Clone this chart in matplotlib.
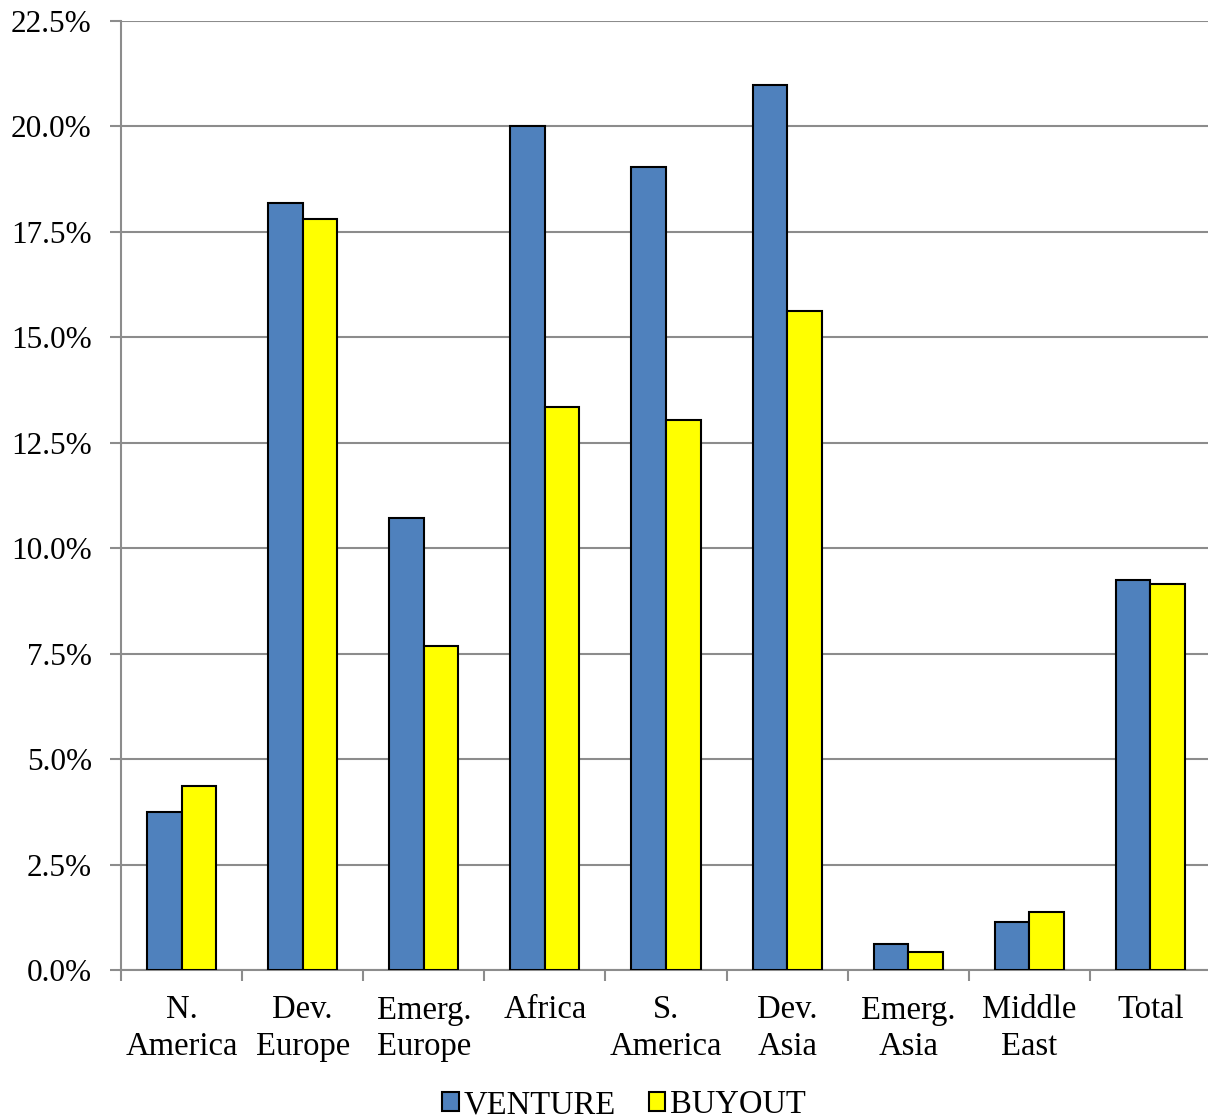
import matplotlib
matplotlib.use("Agg")
import matplotlib.pyplot as plt
from matplotlib.ticker import FuncFormatter, FixedLocator, NullFormatter
from matplotlib.patches import Patch
import numpy as np

plt.rcParams['font.family'] = ['Liberation Serif', 'DejaVu Serif']

categories = ["N.\nAmerica", "Dev.\nEurope", "Emerg.\nEurope", "Africa", "S.\nAmerica",
              "Dev.\nAsia", "Emerg.\nAsia", "Middle\nEast", "Total"]
venture = [3.75, 18.18, 10.72, 20.0, 19.04, 20.98, 0.62, 1.14, 9.24]
buyout = [4.36, 17.80, 7.68, 13.34, 13.04, 15.62, 0.43, 1.38, 9.15]
series_names = ["VENTURE", "BUYOUT"]
colors = ["#4F81BD", "#FFFF00"]

W, H = 1208, 1118
fig = plt.figure(figsize=(W / 100, H / 100), dpi=100)
ax = fig.add_axes([121 / W, 1 - 970 / H, (1211 - 121) / W, (970 - 21) / H])

n = len(categories)
x = np.arange(n)
bw = 1 / 3.5
ax.bar(x - bw / 2, venture, bw, color=colors[0], edgecolor="black", linewidth=1.5, zorder=3)
ax.bar(x + bw / 2, buyout, bw, color=colors[1], edgecolor="black", linewidth=1.5, zorder=3)

ax.set_xlim(-0.5, n - 0.5)
ax.set_ylim(0, 22.5)
ax.set_yticks(np.arange(0, 22.51, 2.5))
ax.yaxis.set_major_formatter(FuncFormatter(lambda v, p: f"{v:.1f}%"))
ax.grid(axis="y", color="#8c8c8c", linewidth=1.5, zorder=0)

ax.xaxis.set_major_locator(FixedLocator(np.arange(-0.5, n, 1.0)))
ax.xaxis.set_major_formatter(NullFormatter())
ax.xaxis.set_minor_locator(FixedLocator(x))
ax.set_xticklabels(categories, minor=True)
ax.tick_params(axis="x", which="minor", length=0, pad=18, labelsize=23.5)
ax.tick_params(axis="x", which="major", length=8, width=1.5, color="#8c8c8c")
ax.tick_params(axis="y", length=8, width=1.5, color="#8c8c8c", labelsize=22.5, pad=13)
for lab in ax.get_xticklabels(minor=True):
    lab.set_linespacing(1.27)

for s in ["top", "right"]:
    ax.spines[s].set_visible(False)
for s in ["left", "bottom"]:
    ax.spines[s].set_color("#8c8c8c")
    ax.spines[s].set_linewidth(1.5)

handles = [Patch(facecolor=c, edgecolor="black", linewidth=1.5) for c in colors]
fig.legend(handles, series_names, loc="center", bbox_to_anchor=(624 / W, 1 - 1105 / H),
           ncol=2, frameon=False, fontsize=23.5, handlelength=0.5, handleheight=0.5,
           handletextpad=0.15, columnspacing=1.0, borderpad=0)

fig.savefig("out.png", dpi=100)
